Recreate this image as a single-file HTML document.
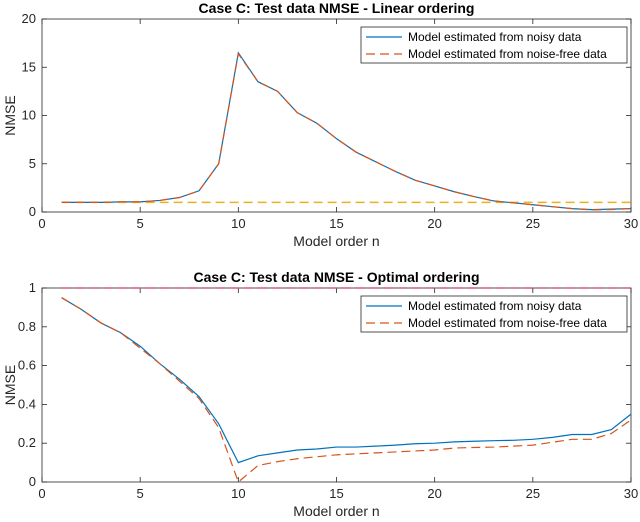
<!DOCTYPE html>
<html><head><meta charset="utf-8"><style>
body{margin:0;background:#fff}
svg{display:block;font-family:"Liberation Sans",sans-serif}
</style></head><body>
<svg id="c" width="640" height="522"></svg>
<script>
const ns="http://www.w3.org/2000/svg";
const xTicks=[0,5,10,15,20,25,30];
const topTicks=[0,5,10,15,20];
const botTicks=[0,0.2,0.4,0.6,0.8,1];
const botTickLabels=["0","0.2","0.4","0.6","0.8","1"];
const topNoisy=[1,1,1,1.05,1.05,1.2,1.5,2.2,5,16.5,13.5,12.5,10.3,9.2,7.6,6.2,5.2,4.2,3.3,2.7,2.1,1.6,1.15,0.95,0.75,0.55,0.35,0.25,0.3,0.35];
const topClean=[1,1,1,1.05,1.05,1.2,1.5,2.2,5,16.4,13.5,12.5,10.3,9.2,7.6,6.2,5.2,4.2,3.3,2.7,2.1,1.6,1.15,0.95,0.75,0.55,0.35,0.22,0.25,0.35];
const topRef=1;
const botNoisy=[.95,.89,.82,.77,.7,.61,.53,.44,.3,.1,.135,.15,.165,.17,.18,.18,.185,.19,.197,.2,.207,.21,.213,.215,.22,.23,.245,.245,.27,.35];
const botClean=[.95,.89,.82,.77,.69,.61,.52,.43,.28,0,.085,.105,.12,.13,.14,.145,.15,.155,.16,.165,.175,.178,.18,.185,.19,.205,.22,.22,.25,.32];
const botRef=1;
const svg=document.getElementById('c');
function el(t,a,p){const e=document.createElementNS(ns,t);for(const k in a)e.setAttribute(k,a[k]);(p||svg).appendChild(e);return e;}
function panel(name,title,y0,y1,ymax,yt,ytl,s1,s2,ref,refColor){
  const X0=42,X1=631;
  const g=el('g',{});
  
  
  const sx=v=>X0+(X1-X0)*v/30, sy=v=>y1-(y1-y0)*v/ymax;
  el('rect',{x:X0,y:y0,width:X1-X0,height:y1-y0,fill:'#fff',stroke:'#262626','stroke-width':0.8},g);
  xTicks.forEach(t=>{const x=sx(t);
    el('line',{x1:x,x2:x,y1:y1,y2:y1-5,stroke:'#262626','stroke-width':0.8},g);
    el('line',{x1:x,x2:x,y1:y0,y2:y0+5,stroke:'#262626','stroke-width':0.8},g);
    const tx=el('text',{x:x,y:y1+16,'font-size':13,'text-anchor':'middle',fill:'#262626'},g);tx.textContent=t;
    });
  yt.forEach((t,i)=>{const y=sy(t);
    el('line',{x1:X0,x2:X0+5,y1:y,y2:y,stroke:'#262626','stroke-width':0.8},g);
    el('line',{x1:X1,x2:X1-5,y1:y,y2:y,stroke:'#262626','stroke-width':0.8},g);
    const tx=el('text',{x:X0-6,y:y+4,'font-size':13,'text-anchor':'end',fill:'#262626'},g);tx.textContent=ytl[i];
    });
  const tt=el('text',{x:(X0+X1)/2,y:y0-6,'font-size':14,'font-weight':'bold','text-anchor':'middle',fill:'#000'},g);tt.textContent=title;
  
  const xl=el('text',{x:(X0+X1)/2,y:y1+34,'font-size':14,'text-anchor':'middle',fill:'#262626'},g);xl.textContent='Model order n';
  
  const yl=el('text',{x:0,y:0,'font-size':14,'text-anchor':'middle',fill:'#262626',transform:`translate(15,${(y0+y1)/2}) rotate(-90)`},g);yl.textContent='NMSE';
  
  const rl=el('line',{x1:sx(1),x2:X1,y1:sy(ref),y2:sy(ref),stroke:refColor,'stroke-width':1.5,'stroke-dasharray':'9,5'},g);
  
  const pts=s=>s.map((v,i)=>sx(i+1)+','+sy(v)).join(' ');
  const l1=el('polyline',{points:pts(s1),fill:'none',stroke:'#0072BD','stroke-width':1.2},g);
  
  const l2=el('polyline',{points:pts(s2),fill:'none',stroke:'#D95319','stroke-width':1.2,'stroke-dasharray':'9,5'},g);
  
  const lg=el('g',{},g);
  el('rect',{x:361,y:y0+8,width:266,height:36,fill:'#fff',stroke:'#262626','stroke-width':0.8},lg);
  el('line',{x1:366,x2:402,y1:y0+18,y2:y0+18,stroke:'#0072BD','stroke-width':1.2},lg);
  el('line',{x1:366,x2:402,y1:y0+35,y2:y0+35,stroke:'#D95319','stroke-width':1.2,'stroke-dasharray':'9,5'},lg);
  const a=el('text',{x:408,y:y0+22,'font-size':12,fill:'#000'},lg);a.textContent='Model estimated from noisy data';
  
  const b=el('text',{x:408,y:y0+39,'font-size':12,fill:'#000'},lg);b.textContent='Model estimated from noise-free data';
  
}
panel('top-panel','Case C: Test data NMSE - Linear ordering',19,212,20,topTicks,topTicks.map(String),topNoisy,topClean,topRef,'#EDB120');
panel('bottom-panel','Case C: Test data NMSE - Optimal ordering',288,482,1,botTicks,botTickLabels,botNoisy,botClean,botRef,'#D9587a');
</script>
</body></html>
